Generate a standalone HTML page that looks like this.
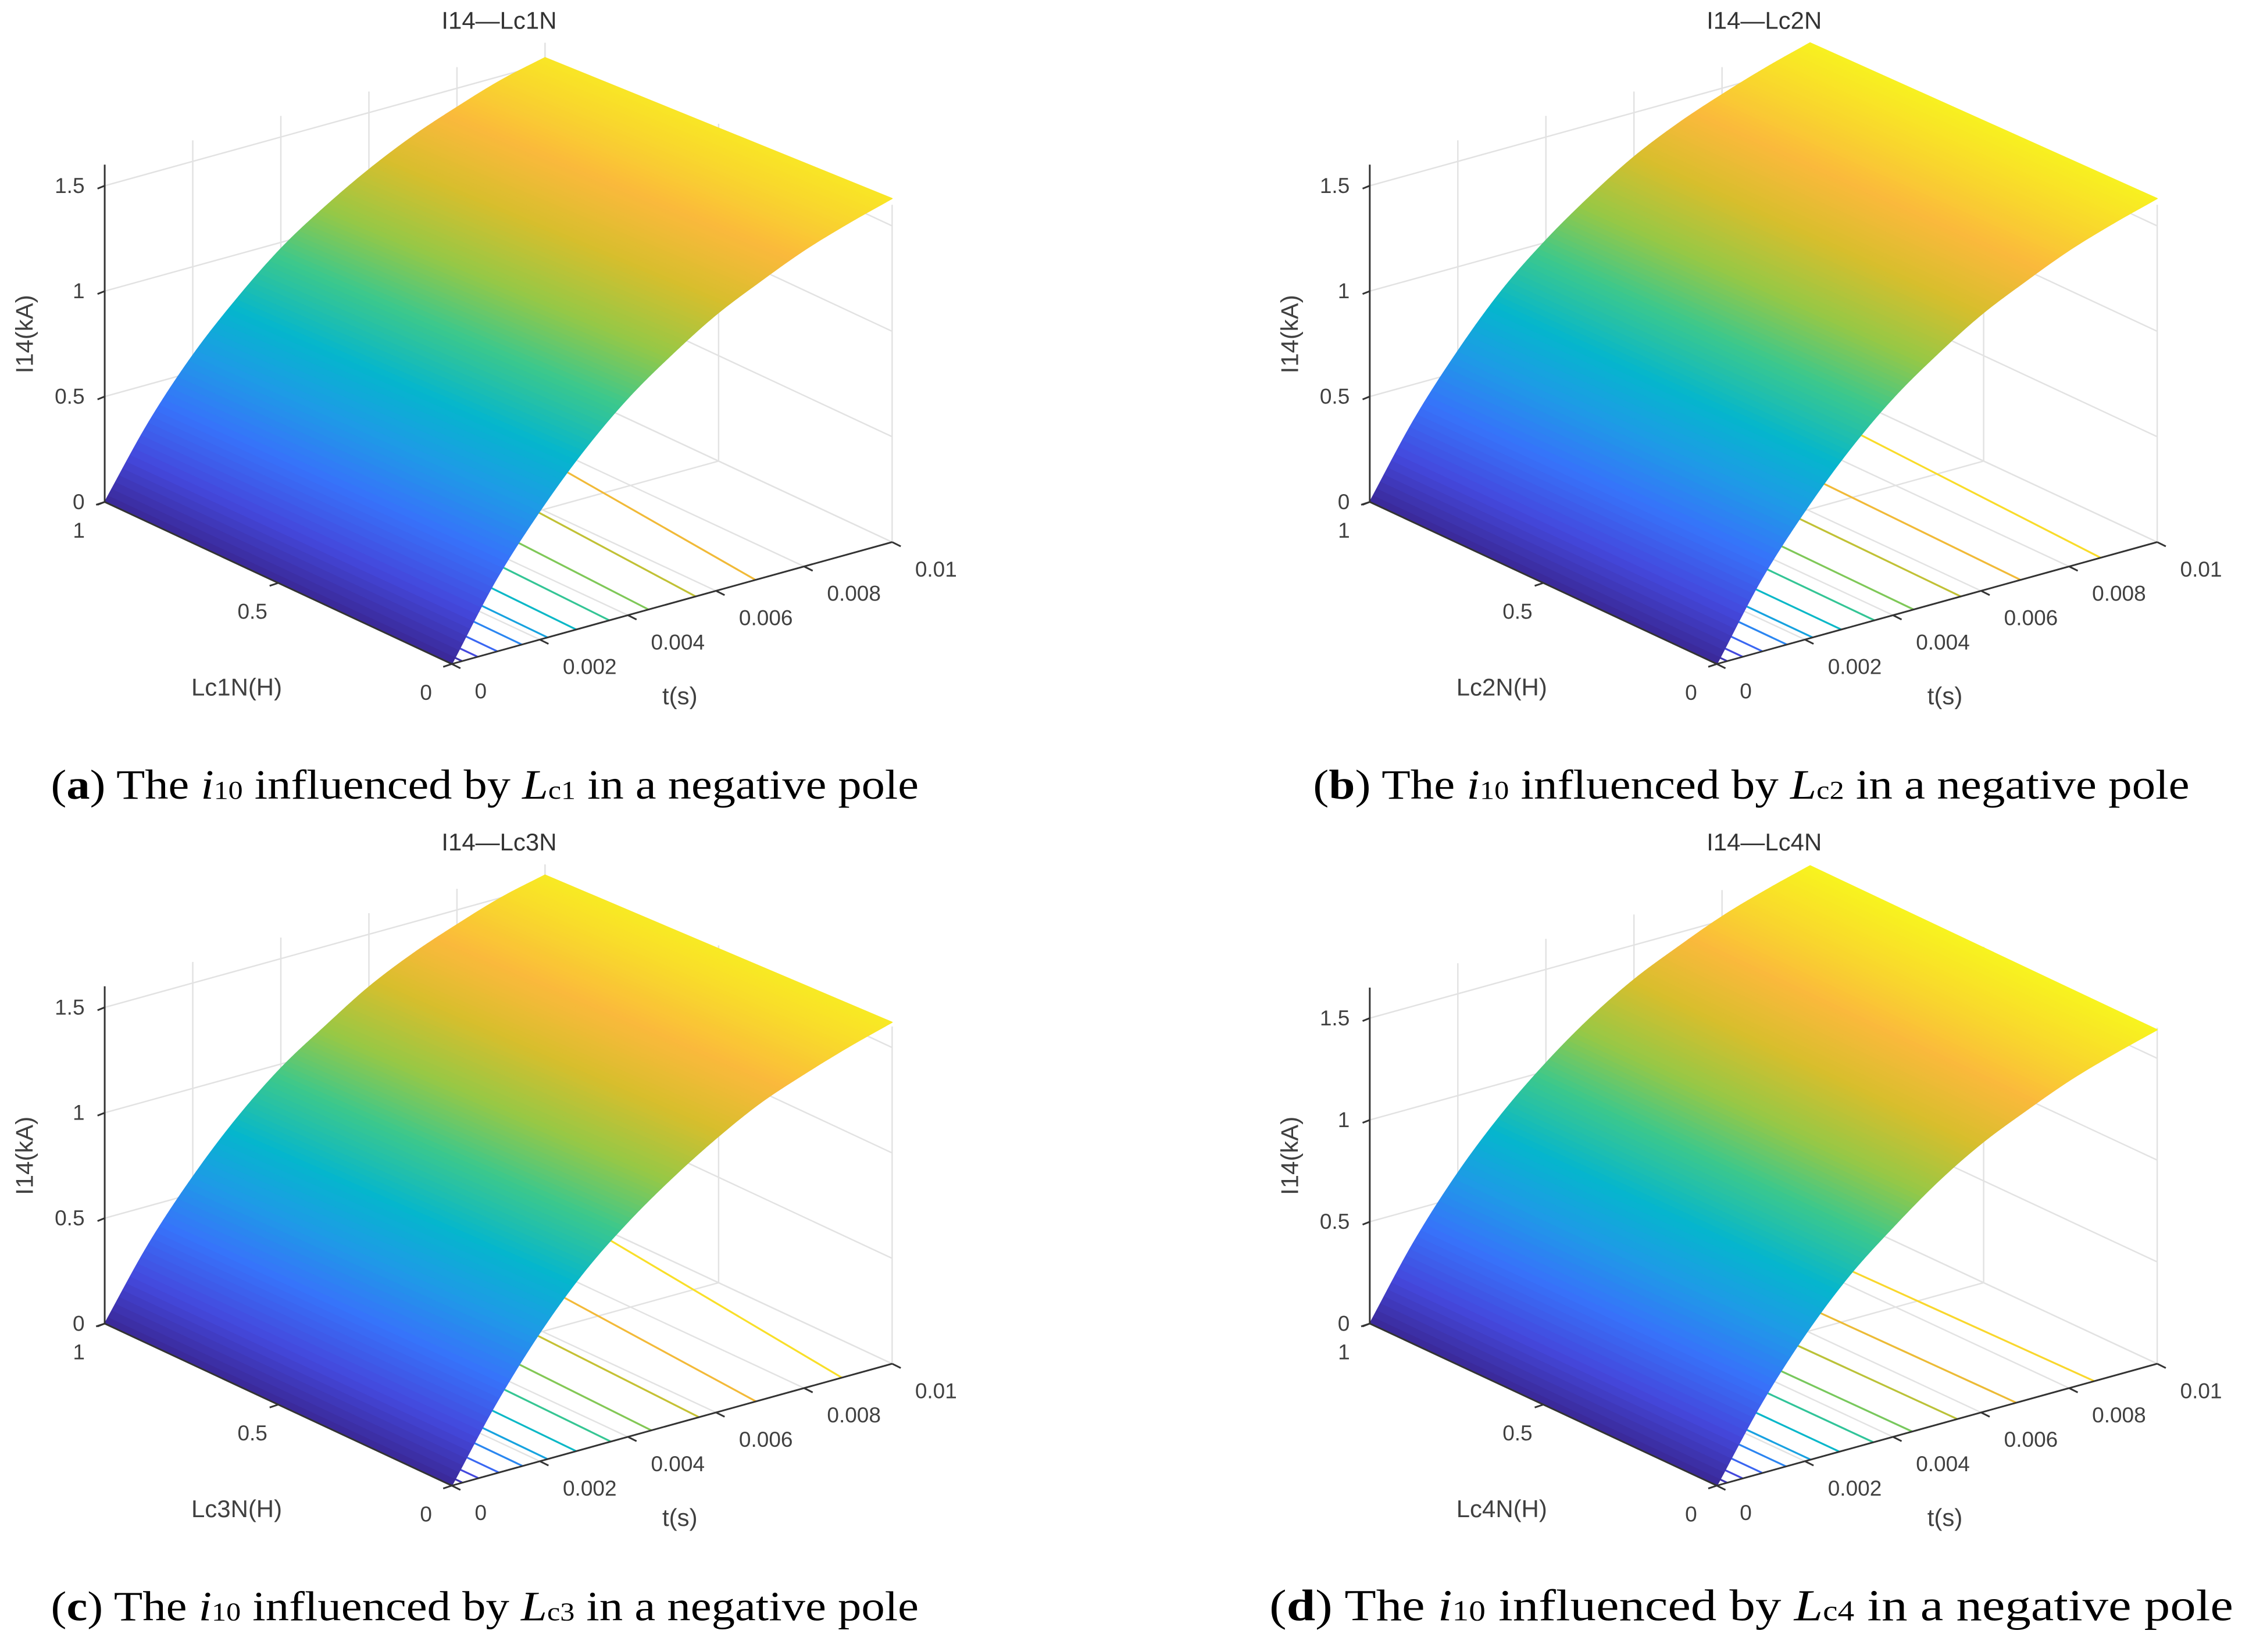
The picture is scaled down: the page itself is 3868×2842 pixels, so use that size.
<!DOCTYPE html>
<html><head><meta charset="utf-8">
<style>
html,body{margin:0;padding:0;background:#fff;}
svg{display:block;}
</style></head>
<body>
<svg id="fig" xmlns="http://www.w3.org/2000/svg" width="3868" height="2842" viewBox="0 0 1568 1152">
<g id="panels"></g>
</svg>
<script>
// ---- data ----
const tTicks = [0, 0.002, 0.004, 0.006, 0.008, 0.01];
const tTickLabels = ["0", "0.002", "0.004", "0.006", "0.008", "0.01"];
const lTicks = [1, 0.5, 0];
const lTickLabels = ["1", "0.5", "0"];
const zTicks = [0, 0.5, 1, 1.5];
const zTickLabels = ["0", "0.5", "1", "1.5"];
const tSamples = [0, 0.001, 0.002, 0.003, 0.004, 0.005, 0.006, 0.007, 0.008, 0.009, 0.01];
const contourLevels = [0.08, 0.2, 0.35, 0.5, 0.65, 0.8, 0.95, 1.1, 1.25, 1.4, 1.55];
// current at L=1 edge and L=0 edge, per panel
const zA_L1 = [0, 0.32, 0.58, 0.79, 0.97, 1.11, 1.23, 1.33, 1.41, 1.48, 1.53];
const zA_L0 = [0, 0.34, 0.61, 0.84, 1.03, 1.18, 1.31, 1.41, 1.50, 1.57, 1.63];
const zB_L1 = [0, 0.33, 0.60, 0.83, 1.01, 1.16, 1.29, 1.39, 1.47, 1.54, 1.60];
const zB_L0 = [0, 0.34, 0.61, 0.84, 1.03, 1.18, 1.31, 1.41, 1.50, 1.57, 1.63];
const zC_L1 = [0, 0.32, 0.58, 0.80, 0.98, 1.12, 1.25, 1.35, 1.43, 1.50, 1.55];
const zC_L0 = [0, 0.33, 0.61, 0.84, 1.02, 1.17, 1.30, 1.41, 1.49, 1.56, 1.62];
const zD_L1 = [0, 0.34, 0.62, 0.85, 1.04, 1.20, 1.33, 1.43, 1.52, 1.59, 1.65];
const zD_L0 = [0, 0.34, 0.62, 0.85, 1.03, 1.19, 1.32, 1.42, 1.51, 1.58, 1.64];

const panels = [
  {id:"a", dx:0, dy:0, zs:147, zTop:1.6, zmax:1.63, z1:zA_L1, z0:zA_L0, name:"Lc1N", sub:"c1", cx:338, cw:605, fs:27},
  {id:"b", dx:882, dy:0, zs:147, zTop:1.6, zmax:1.63, z1:zB_L1, z0:zB_L0, name:"Lc2N", sub:"c2", cx:1221, cw:611, fs:27},
  {id:"c", dx:0, dy:573, zs:147, zTop:1.6, zmax:1.62, z1:zC_L1, z0:zC_L0, name:"Lc3N", sub:"c3", cx:338, cw:605, fs:27},
  {id:"d", dx:882, dy:573, zs:142, zTop:1.65, zmax:1.65, z1:zD_L1, z0:zD_L0, name:"Lc4N", sub:"c4", cx:1221, cw:672, fs:29}
];

const NS = "http://www.w3.org/2000/svg";
const root = document.getElementById("panels");
function mk(tag, attrs, parent){
  const e = document.createElementNS(NS, tag);
  for (const k in attrs) e.setAttribute(k, attrs[k]);
  if (parent) parent.appendChild(e);
  return e;
}
const stops = [[0,[58,40,150]],[0.12,[68,72,220]],[0.25,[55,115,250]],[0.37,[30,155,230]],[0.48,[5,182,205]],[0.6,[60,200,140]],[0.7,[150,200,70]],[0.8,[215,190,45]],[0.88,[250,185,60]],[1,[248,245,30]]];
function parula(v){
  v = Math.max(0, Math.min(1, v));
  for (let i=0;i<stops.length-1;i++){
    const a=stops[i], b=stops[i+1];
    if (v<=b[0]){
      const f=(v-a[0])/(b[0]-a[0]);
      const c=a[1].map((x,j)=>Math.round(x+(b[1][j]-x)*f));
      return "rgb("+c.join(",")+")";
    }
  }
  return "rgb(248,245,30)";
}
function evalZ(arr, u){
  const n=arr.length;
  let i=Math.min(Math.floor(u), n-2); const f=u-i;
  const p0=arr[Math.max(i-1,0)], p1=arr[i], p2=arr[i+1], p3=arr[Math.min(i+2,n-1)];
  const m1=(p2-p0)/((i>0)?2:1), m2=(p3-p1)/((i+2<n)?2:1);
  const f2=f*f, f3=f2*f;
  return (2*f3-3*f2+1)*p1+(f3-2*f2+f)*m1+(-2*f3+3*f2)*p2+(f3-f2)*m2;
}
function tAt(arr, level){
  for (let i=0;i<arr.length-1;i++){
    if (arr[i]<=level && arr[i+1]>=level){
      const f=(level-arr[i])/(arr[i+1]-arr[i]);
      return tSamples[i]+f*(tSamples[i+1]-tSamples[i]);
    }
  }
  return null;
}

panels.forEach(p=>{
  const O=[73+p.dx, 350+p.dy], Lv=[242,113], Tv=[307,-85];
  const P=(L,t,z)=>[O[0]+(1-L)*Lv[0]+(t/0.01)*Tv[0], O[1]+(1-L)*Lv[1]+(t/0.01)*Tv[1]-z*p.zs];
  const g = mk("g", {}, root);
  
  
  const grid = mk("g", {stroke:"#e2e2e2", "stroke-width":"1", fill:"none"}, g);
  
  
  const line=(a,b,par,attrs)=>mk("line", Object.assign({x1:a[0].toFixed(1),y1:a[1].toFixed(1),x2:b[0].toFixed(1),y2:b[1].toFixed(1)}, attrs||{}), par);
  tTicks.forEach(t=>{ if(t>0) line(P(1,t,0),P(1,t,p.zTop),grid); });
  zTicks.forEach(z=>{ line(P(1,0,z),P(1,0.01,z),grid); });
  lTicks.forEach(L=>{ line(P(L,0.01,0),P(L,0.01,p.zTop),grid); });
  zTicks.forEach(z=>{ line(P(1,0.01,z),P(0,0.01,z),grid); });
  tTicks.forEach(t=>{ line(P(1,t,0),P(0,t,0),grid); });
  lTicks.forEach(L=>{ line(P(L,0,0),P(L,0.01,0),grid); });
  const cont = mk("g", {fill:"none","stroke-width":"1.3"}, g);
  
  
  contourLevels.forEach(lv=>{
    const ta=tAt(p.z1,lv), tb=tAt(p.z0,lv);
    if (ta===null || tb===null) return;
    const l=line(P(1,ta,0),P(0,tb,0),cont,{stroke:parula(lv/p.zmax)});
    
    
  });
  const surf = mk("g", {}, g);
  
  
  const n=tSamples.length-1, sub=12, N=n*sub;
  const dt=(tSamples[n]-tSamples[0])/n;
  for (let k=0;k<N;k++){
    const u0=k/sub, u1=(k+1)/sub;
    const t0=tSamples[0]+u0*dt, t1=tSamples[0]+u1*dt;
    const za1=evalZ(p.z1,u0), za0=evalZ(p.z0,u0), zb1=evalZ(p.z1,u1), zb0=evalZ(p.z0,u1);
    const a1=P(1,t0,za1), a0=P(0,t0,za0), b1=P(1,t1,zb1), b0=P(0,t1,zb0);
    const col=parula(((za1+za0+zb1+zb0)/4)/p.zmax);
    const pts=[a1,b1,b0,a0].map(q=>q[0].toFixed(2)+","+q[1].toFixed(2)).join(" ");
    const poly=mk("polygon",{points:pts,fill:col,stroke:col,"stroke-width":"0.7","stroke-linejoin":"round"},surf);
    
    
  }
  const ax = mk("g", {stroke:"#333","stroke-width":"1.2",fill:"none"}, g);
  
  
  line(P(1,0,0),P(1,0,p.zTop),ax);
  line(P(1,0,0),P(0,0,0),ax);
  line(P(0,0,0),P(0,0.01,0),ax);
  zTicks.forEach(z=>{ const q=P(1,0,z); line(q,[q[0]-5,q[1]+2],ax); });
  tTicks.forEach(t=>{ const q=P(0,t,0); line(q,[q[0]+6,q[1]+3],ax); });
  lTicks.forEach(L=>{ const q=P(L,0,0); line(q,[q[0]-6,q[1]+2],ax); });
  const txt=(x,y,s,attrs,name)=>{
    const e=mk("text",Object.assign({x:x.toFixed(1),y:y.toFixed(1),"font-family":"Liberation Sans, sans-serif","font-size":"15",fill:"#404040"},attrs||{}),g);
    e.textContent=s;
    
    
    return e;
  };
  zTicks.forEach((z,i)=>{ const q=P(1,0,z); txt(q[0]-14,q[1]+5,zTickLabels[i],{"text-anchor":"end"},"z-tick-label"); });
  lTicks.forEach((L,i)=>{ const q=P(L,0,0); txt(q[0]-18,q[1]+25,lTickLabels[i],{"text-anchor":"middle"},"l-tick-label"); });
  tTicks.forEach((t,i)=>{ const q=P(0,t,0); txt(q[0]+16,q[1]+24,tTickLabels[i],{"text-anchor":"start"},"t-tick-label"); });
  txt(165+p.dx,485+p.dy,p.name+"(H)",{"text-anchor":"middle","font-size":"17"},"l-axis-title");
  txt(474+p.dx,491+p.dy,"t(s)",{"text-anchor":"middle","font-size":"17"},"t-axis-title");
  txt(23+p.dx,233+p.dy,"I14(kA)",{"text-anchor":"middle","font-size":"17",transform:"rotate(-90 "+(23+p.dx)+" "+(233+p.dy)+")"},"z-axis-title");
  txt(348+p.dx,20+p.dy,"I14\u2014"+p.name,{"text-anchor":"middle","font-size":"17",fill:"#333"},"chart-title");
  const cap=mk("text",{x:p.cx,y:(557+p.dy).toFixed(0),"text-anchor":"middle","font-family":"Liberation Serif, serif","font-size":p.fs+2,fill:"#000",textLength:p.cw,lengthAdjust:"spacingAndGlyphs"},g);
  
  
  const ts=(s,a)=>{const e=mk("tspan",a||{},cap); e.textContent=s; return e;};
  ts("(");
  ts(p.id,{"font-weight":"bold"});
  ts(") The ");
  ts("i",{"font-style":"italic"});
  ts("10",{"font-size":Math.round(p.fs*0.68)});
  ts(" influenced by ");
  ts("L",{"font-style":"italic"});
  ts(p.sub,{"font-size":Math.round(p.fs*0.68)});
  ts(" in a negative pole");
});
</script>
</body></html>
